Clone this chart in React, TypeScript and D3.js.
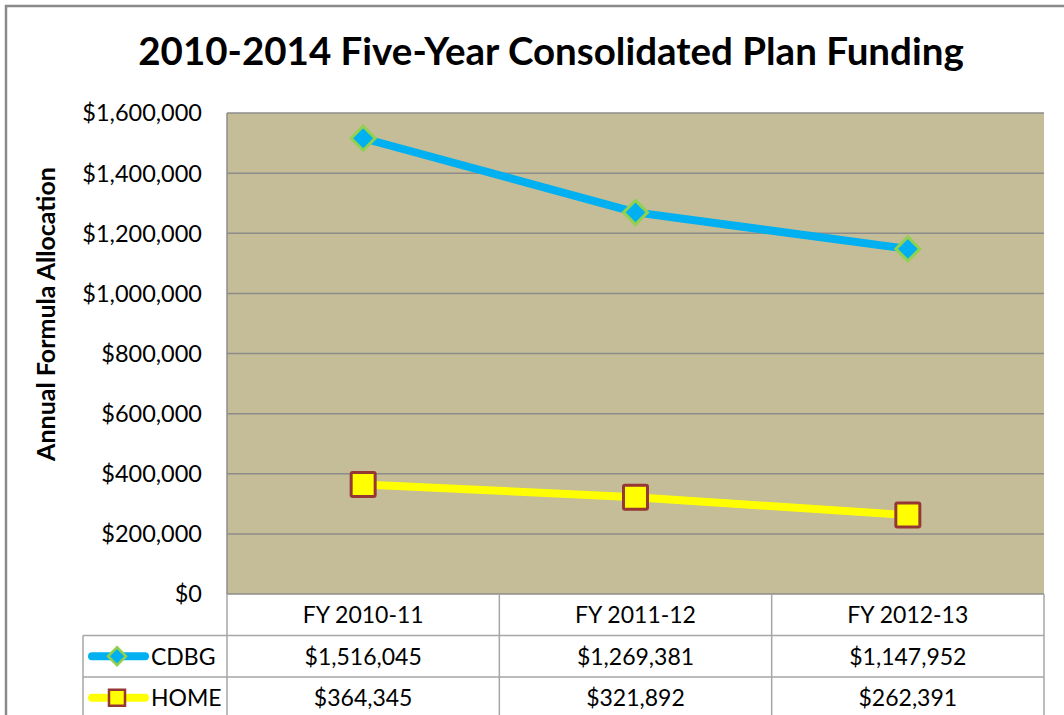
import React from "react";
import * as d3 from "d3";

const categories = ["FY 2010-11", "FY 2011-12", "FY 2012-13"];
const cdbgValues = [1516045, 1269381, 1147952];
const homeValues = [364345, 321892, 262391];
const seriesNames = ["CDBG", "HOME"];
const yTicks = [0, 200000, 400000, 600000, 800000, 1000000, 1200000, 1400000, 1600000];
const title = "2010-2014 Five-Year Consolidated Plan Funding";
const yTitle = "Annual Formula Allocation";

const W = 1064;
const H = 715;
const plotL = 227;
const plotR = 1044;
const plotT = 113;
const plotB = 594;
const rowH = 41.5;
const legendL = 83;
const FONT = "Lato, 'Open Sans', sans-serif";

export default function App() {
  const x = d3.scaleBand<string>().domain(categories).range([plotL, plotR]);
  const y = d3.scaleLinear().domain([0, 1600000]).range([plotB, plotT]);
  const fmt = (v: number) => "$" + d3.format(",")(v);
  const cx = (c: string) => (x(c) as number) + x.bandwidth() / 2;

  const line = d3
    .line<number>()
    .x((_, i) => cx(categories[i]))
    .y((d) => y(d));

  const grid = "#8c8c8c";
  const tableStroke = "#a6a6a6";
  const blue = "#00B0F0";
  const green = "#92D050";
  const yellow = "#FFFF00";
  const brown = "#953735";

  const diamond = (px: number, py: number, r: number) =>
    `M${px},${py - r}L${px + r},${py}L${px},${py + r}L${px - r},${py}Z`;

  const rows = [
    { name: seriesNames[0], values: cdbgValues },
    { name: seriesNames[1], values: homeValues },
  ];

  return (
    <svg
      width={W}
      height={H}
      style={{ position: "absolute", left: 0, top: 0, background: "#fff" }}
      fontFamily={FONT}
    >
      <rect x={0} y={0} width={W} height={H} fill="#fff" />
      {/* outer frame */}
      <rect x={6} y={6} width={W + 20} height={H + 20} fill="none" stroke="#8a8a8a" strokeWidth={2.5} />

      {/* title */}
      <text x={551} y={65} textAnchor="middle" fontWeight="bold" fontSize={38.5} fill="#000">
        {title}
      </text>

      {/* plot area */}
      <rect x={plotL} y={plotT} width={plotR - plotL} height={plotB - plotT} fill="#C4BD97" />
      {yTicks.map((t) => (
        <line key={t} x1={plotL} x2={plotR} y1={y(t)} y2={y(t)} stroke={grid} strokeWidth={1.5} />
      ))}
      <line x1={plotL} x2={plotL} y1={plotT} y2={plotB} stroke={grid} strokeWidth={1.5} />

      {/* y tick labels */}
      {yTicks.map((t) => (
        <text key={t} x={202} y={y(t)} dy="0.36em" textAnchor="end" fontSize={23.5} fill="#000">
          {fmt(t)}
        </text>
      ))}

      {/* y axis title */}
      <text
        transform={`translate(55,314) rotate(-90)`}
        textAnchor="middle"
        fontWeight="bold"
        fontSize={25}
        fill="#000"
      >
        {yTitle}
      </text>

      {/* lines */}
      <path d={line(cdbgValues) as string} fill="none" stroke={blue} strokeWidth={8} strokeLinejoin="round" />
      <path d={line(homeValues) as string} fill="none" stroke={yellow} strokeWidth={8} strokeLinejoin="round" />

      {cdbgValues.map((v, i) => (
        <path key={i} d={diamond(cx(categories[i]), y(v), 12)} fill={blue} stroke={green} strokeWidth={3} />
      ))}
      {homeValues.map((v, i) => (
        <rect
          key={i}
          x={cx(categories[i]) - 12}
          y={y(v) - 12}
          width={24}
          height={24}
          fill={yellow}
          stroke={brown}
          strokeWidth={3}
          rx={1.5}
        />
      ))}

      {/* data table */}
      <g stroke={tableStroke} strokeWidth={1.5} fill="none">
        <line x1={legendL} x2={plotR} y1={plotB + rowH} y2={plotB + rowH} />
        <line x1={legendL} x2={plotR} y1={plotB + rowH * 2} y2={plotB + rowH * 2} />
        <line x1={legendL} x2={legendL} y1={plotB + rowH} y2={H} />
        {categories.map((c) => (
          <line key={c} x1={x(c) as number} x2={x(c) as number} y1={plotB} y2={H} />
        ))}
        <line x1={plotR} x2={plotR} y1={plotB} y2={H} />
      </g>

      {categories.map((c) => (
        <text key={c} x={cx(c)} y={plotB + rowH / 2} dy="0.36em" textAnchor="middle" fontSize={23} fill="#000">
          {c}
        </text>
      ))}

      {rows.map((r, ri) => {
        const ry = plotB + rowH * (ri + 1) + rowH / 2;
        return (
          <g key={r.name}>
            {r.values.map((v, i) => (
              <text key={i} x={cx(categories[i])} y={ry} dy="0.36em" textAnchor="middle" fontSize={23} fill="#000">
                {fmt(v)}
              </text>
            ))}
            <line
              x1={92}
              x2={145}
              y1={ry}
              y2={ry}
              stroke={ri === 0 ? blue : yellow}
              strokeWidth={8}
              strokeLinecap="round"
            />
            {ri === 0 ? (
              <path d={diamond(117, ry, 9)} fill={blue} stroke={green} strokeWidth={2.5} />
            ) : (
              <rect x={109} y={ry - 8} width={16} height={16} fill={yellow} stroke={brown} strokeWidth={2.5} />
            )}
            <text x={151} y={ry} dy="0.36em" fontSize={23} fill="#000">
              {r.name}
            </text>
          </g>
        );
      })}
    </svg>
  );
}
